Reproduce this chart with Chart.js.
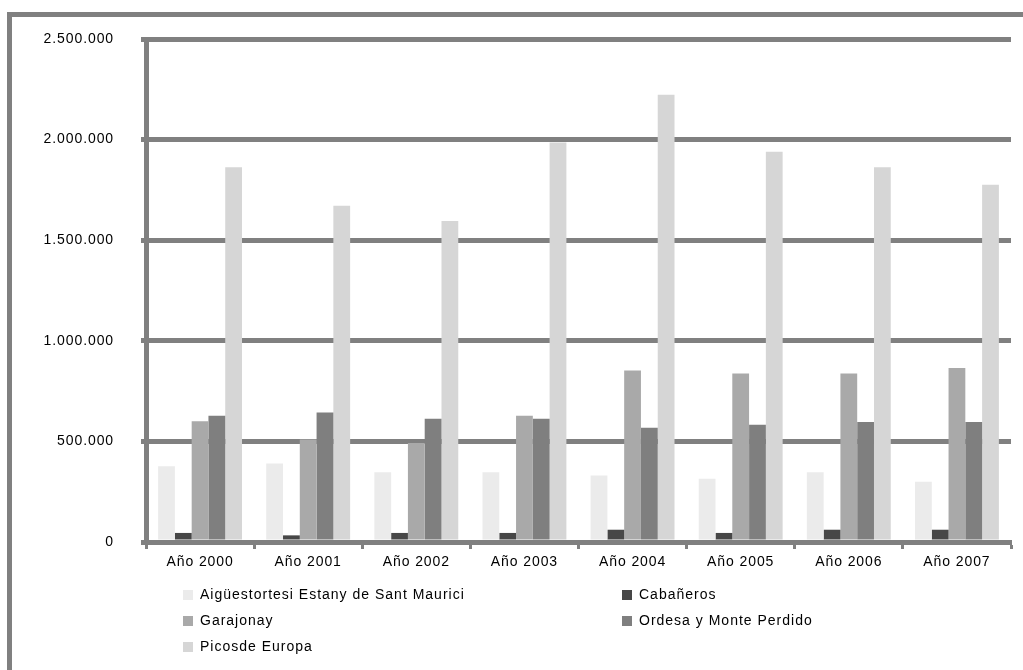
<!DOCTYPE html>
<html>
<head>
<meta charset="utf-8">
<script src="https://cdn.jsdelivr.net/npm/chart.js@4/dist/chart.umd.min.js"></script>
<style>
  html, body { margin: 0; padding: 0; background: #fff; }
  #wrap { position: relative; width: 1023px; height: 670px; overflow: hidden; }
  #frame { position: absolute; left: 7px; top: 12px; width: 1100px; height: 800px;
           border-left: 5px solid #808080; border-top: 5px solid #808080; pointer-events: none; }
  canvas { position: absolute; left: 0; top: 0; }
</style>
</head>
<body>
<div id="wrap">
  <canvas id="wykres" width="1023" height="670"></canvas>
  <div id="frame"></div>
</div>
<script>
var years = ['Año 2000', 'Año 2001', 'Año 2002', 'Año 2003', 'Año 2004', 'Año 2005', 'Año 2006', 'Año 2007'];

var aiguestortes = [376000, 390000, 347000, 347000, 330000, 314000, 347000, 300000];
var cabaneros = [45000, 33000, 45000, 45000, 61000, 45000, 61000, 61000];
var garajonay = [600000, 509000, 492000, 628000, 853000, 837000, 837000, 865000];
var ordesa = [628000, 644000, 613000, 613000, 568000, 583000, 597000, 597000];
var picos = [1863000, 1671000, 1596000, 1985000, 2223000, 1939000, 1863000, 1775000];

var yTicks = [0, 500000, 1000000, 1500000, 2000000, 2500000];

function miles(v) {
    return String(v).replace(/\B(?=(\d{3})+(?!\d))/g, '.');
}

// texto un poco espaciado, como en el original
var spacingPlugin = {
    id: 'espaciado',
    beforeInit: function (chart) { chart.ctx.letterSpacing = '0.9px'; },
    beforeDraw: function (chart) { chart.ctx.letterSpacing = '0.9px'; }
};

// leyenda en dos columnas, como en la hoja original
var legendPlugin = {
    id: 'leyenda',
    afterDraw: function (chart) {
        var ctx = chart.ctx;
        var cols = [183, 622];
        var rows = [595, 621, 647];
        ctx.save();
        ctx.letterSpacing = '1px';
        ctx.font = '14px "Liberation Sans", Arial, sans-serif';
        ctx.textBaseline = 'middle';
        ctx.textAlign = 'left';
        chart.data.datasets.forEach(function (ds, i) {
            var x = cols[i % 2];
            var y = rows[Math.floor(i / 2)];
            ctx.fillStyle = ds.backgroundColor;
            ctx.fillRect(x, y - 5, 10, 10);
            ctx.fillStyle = '#000';
            ctx.fillText(ds.label, x + 17, y);
        });
        ctx.restore();
    }
};

var ctx = document.getElementById('wykres').getContext('2d');

new Chart(ctx, {
    type: 'bar',
    data: {
        labels: years,
        datasets: [
            { label: 'Aigüestortesi Estany de Sant Maurici', data: aiguestortes, backgroundColor: '#ebebeb' },
            { label: 'Cabañeros', data: cabaneros, backgroundColor: '#474747' },
            { label: 'Garajonay', data: garajonay, backgroundColor: '#a9a9a9' },
            { label: 'Ordesa y Monte Perdido', data: ordesa, backgroundColor: '#7f7f7f' },
            { label: 'Picosde Europa', data: picos, backgroundColor: '#d6d6d6' }
        ]
    },
    options: {
        responsive: false,
        animation: false,
        layout: { padding: { top: 39, right: 12, bottom: 0, left: 0 } },
        datasets: {
            bar: { barPercentage: 1, categoryPercentage: 0.776, borderWidth: 0 }
        },
        plugins: {
            legend: { display: false },
            tooltip: { enabled: false }
        },
        scales: {
            x: {
                z: 1,
                grid: {
                    display: true,
                    drawOnChartArea: false,
                    drawTicks: true,
                    tickLength: 7,
                    tickWidth: 3,
                    tickColor: '#808080',
                    offset: true
                },
                border: { display: true, width: 5, color: '#808080' },
                ticks: {
                    color: '#000',
                    padding: 5,
                    font: { family: '"Liberation Sans", Arial, sans-serif', size: 14 }
                },
                afterFit: function (scale) { scale.height = 128; }
            },
            y: {
                min: 0,
                max: 2500000,
                afterBuildTicks: function (scale) {
                    scale.ticks = yTicks.map(function (v) { return { value: v }; });
                },
                grid: {
                    color: '#808080',
                    lineWidth: 5,
                    drawTicks: true,
                    tickLength: 5,
                    tickColor: '#808080'
                },
                border: { display: true, width: 5, color: '#808080' },
                ticks: {
                    color: '#000',
                    padding: 27,
                    font: { family: '"Liberation Sans", Arial, sans-serif', size: 14 },
                    callback: function (v) { return miles(v); }
                },
                afterFit: function (scale) { scale.width = 146; }
            }
        }
    },
    plugins: [spacingPlugin, legendPlugin]
});
</script>
</body>
</html>
